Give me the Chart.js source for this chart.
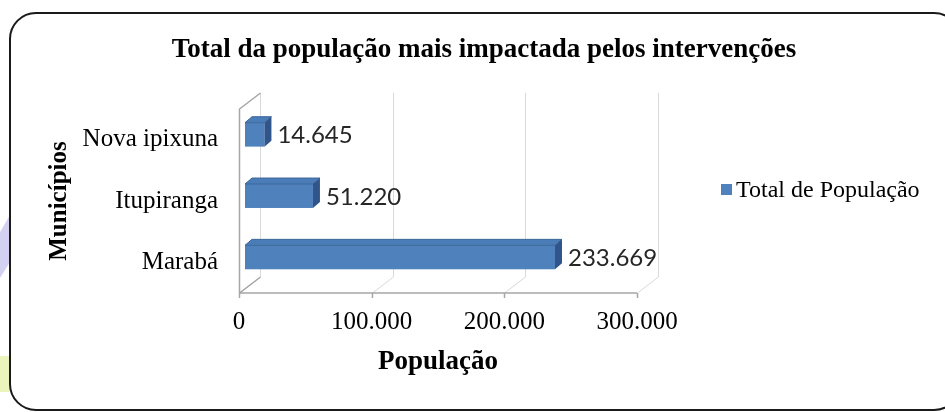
<!DOCTYPE html>
<html>
<head>
<meta charset="utf-8">
<script src="https://cdn.jsdelivr.net/npm/chart.js@4.4.1/dist/chart.umd.min.js"></script>
<style>
  html, body { margin: 0; padding: 0; background: #fff; }
  #grafico { display: block; }
</style>
</head>
<body>
<canvas id="grafico" width="945" height="412"></canvas>
<script>
// Dados do gráfico
const municipios = ['Nova ipixuna', 'Itupiranga', 'Marabá'];
const populacao = [14645, 51220, 233669];
const ticksPopulacao = [0, 100000, 200000, 300000];

const serif = '"Liberation Serif", "Times New Roman", serif';

function formata(v) {
    // separador de milhares com ponto
    return String(v).replace(/\B(?=(\d{3})+(?!\d))/g, '.');
}

// profundidade das paredes e das barras
const PAREDE = { dx: 21, dy: -16 };
const DESLOC = { dx: 6, dy: -5 };
const BARRA = { dx: 7, dy: -6 };

const moldura = {
    id: 'moldura',
    beforeDraw(chart) {
        const ctx = chart.ctx;
        ctx.save();
        ctx.fillStyle = '#fff';
        ctx.fillRect(0, 0, chart.width, chart.height);
        // manchas do fundo na borda esquerda
        ctx.fillStyle = 'rgba(160,150,225,0.45)';
        ctx.beginPath();
        ctx.moveTo(0, 232); ctx.lineTo(10, 215); ctx.lineTo(10, 262); ctx.lineTo(0, 278);
        ctx.closePath(); ctx.fill();
        ctx.fillStyle = 'rgba(225,240,160,0.7)';
        ctx.fillRect(0, 356, 10, 36);
        // contorno arredondado
        ctx.strokeStyle = '#1a1a1a';
        ctx.lineWidth = 2;
        ctx.beginPath();
        ctx.roundRect(10, 13, 950, 397, 26);
        ctx.stroke();
        ctx.restore();
    },
    beforeDatasetsDraw(chart) {
        const ctx = chart.ctx;
        const a = chart.chartArea;
        const xs = chart.scales.x;
        ctx.save();
        ctx.lineWidth = 1;
        // linhas de grade na parede do fundo e no piso
        ctx.strokeStyle = '#d9d9d9';
        ticksPopulacao.forEach(function (v) {
            const px = Math.round(xs.getPixelForValue(v)) + 0.5;
            ctx.beginPath();
            ctx.moveTo(px + PAREDE.dx, a.top + PAREDE.dy);
            ctx.lineTo(px + PAREDE.dx, a.bottom + PAREDE.dy);
            ctx.moveTo(px, a.bottom);
            ctx.lineTo(px + PAREDE.dx, a.bottom + PAREDE.dy);
            ctx.stroke();
        });
        // parede lateral e eixo
        ctx.strokeStyle = '#a6a6a6';
        ctx.lineWidth = 1.5;
        const x0 = Math.round(a.left) + 0.5;
        ctx.beginPath();
        ctx.moveTo(x0 + PAREDE.dx, a.top + PAREDE.dy);
        ctx.lineTo(x0, a.top);
        ctx.lineTo(x0, a.bottom);
        ctx.lineTo(x0 + PAREDE.dx, a.bottom + PAREDE.dy);
        ctx.moveTo(x0, a.bottom);
        ctx.lineTo(a.right, a.bottom);
        ticksPopulacao.forEach(function (v) {
            const px = Math.round(xs.getPixelForValue(v)) + 0.5;
            ctx.moveTo(px, a.bottom);
            ctx.lineTo(px, a.bottom + 5);
        });
        ctx.stroke();
        ctx.restore();
    },
    afterDatasetsDraw(chart) {
        const ctx = chart.ctx;
        const meta = chart.getDatasetMeta(0);
        ctx.save();
        meta.data.forEach(function (el, i) {
            const x0 = el.base + DESLOC.dx;
            const x1 = el.x + DESLOC.dx;
            const y0 = el.y - el.height / 2 + DESLOC.dy;
            const y1 = el.y + el.height / 2 + DESLOC.dy;
            // face frontal
            ctx.fillStyle = '#4f81bd';
            ctx.fillRect(x0, y0, x1 - x0, y1 - y0);
            // topo
            ctx.fillStyle = '#4a7cb8';
            ctx.strokeStyle = '#3d6699';
            ctx.lineWidth = 1;
            ctx.beginPath();
            ctx.moveTo(x0, y0);
            ctx.lineTo(x0 + BARRA.dx, y0 + BARRA.dy);
            ctx.lineTo(x1 + BARRA.dx, y0 + BARRA.dy);
            ctx.lineTo(x1, y0);
            ctx.closePath();
            ctx.fill();
            ctx.stroke();
            // lateral
            ctx.fillStyle = '#30558a';
            ctx.beginPath();
            ctx.moveTo(x1, y0);
            ctx.lineTo(x1 + BARRA.dx, y0 + BARRA.dy);
            ctx.lineTo(x1 + BARRA.dx, y1 + BARRA.dy);
            ctx.lineTo(x1, y1);
            ctx.closePath();
            ctx.fill();
            // rótulo do valor
            ctx.fillStyle = '#262626';
            ctx.font = '24px Lato, "Open Sans", sans-serif';
            ctx.textAlign = 'left';
            ctx.textBaseline = 'middle';
            ctx.fillText(formata(populacao[i]), x1 + BARRA.dx + 6, el.y + DESLOC.dy + 1);
        });
        ctx.restore();
    },
    afterDraw(chart) {
        const ctx = chart.ctx;
        ctx.save();
        // título
        ctx.fillStyle = '#000';
        ctx.font = 'bold 27px ' + serif;
        ctx.textAlign = 'center';
        ctx.textBaseline = 'alphabetic';
        ctx.fillText('Total da população mais impactada pelos intervenções', 484, 57);
        // legenda
        ctx.fillStyle = '#4f81bd';
        ctx.fillRect(721, 184, 11, 11);
        ctx.fillStyle = '#000';
        ctx.font = '24px ' + serif;
        ctx.textAlign = 'left';
        ctx.textBaseline = 'middle';
        ctx.fillText(chart.data.datasets[0].label, 736, 191);
        ctx.restore();
    }
};

const ctx = document.getElementById('grafico').getContext('2d');
new Chart(ctx, {
    type: 'bar',
    data: {
        labels: municipios,
        datasets: [{
            label: 'Total de População',
            data: populacao,
            backgroundColor: 'rgba(0,0,0,0)',
            barPercentage: 0.39,
            categoryPercentage: 1
        }]
    },
    options: {
        indexAxis: 'y',
        responsive: false,
        animation: false,
        layout: { padding: { top: 109, right: 308, left: 0, bottom: 0 } },
        plugins: {
            legend: { display: false },
            title: { display: false },
            tooltip: { enabled: false }
        },
        scales: {
            x: {
                min: 0,
                max: 300000,
                afterBuildTicks: function (scale) {
                    scale.ticks = ticksPopulacao.map(function (v) { return { value: v }; });
                },
                afterFit: function (scale) { scale.height = 119; },
                grid: { display: false, drawTicks: false },
                border: { display: false },
                ticks: {
                    color: '#000',
                    font: { family: serif, size: 25 },
                    padding: 14,
                    maxRotation: 0,
                    callback: function (value) { return formata(value); }
                },
                title: {
                    display: true,
                    text: 'População',
                    color: '#000',
                    font: { family: serif, size: 27, weight: 'bold' },
                    padding: { top: 0, bottom: 34 }
                }
            },
            y: {
                afterFit: function (scale) { scale.width = 239; },
                grid: { display: false, drawTicks: false },
                border: { display: false },
                ticks: {
                    color: '#000',
                    font: { family: serif, size: 25 },
                    padding: 21
                },
                title: {
                    display: true,
                    text: 'Municípios',
                    color: '#000',
                    font: { family: serif, size: 25, weight: 'bold' },
                    padding: { top: 45, bottom: 0 }
                }
            }
        }
    },
    plugins: [moldura]
});
</script>
</body>
</html>
